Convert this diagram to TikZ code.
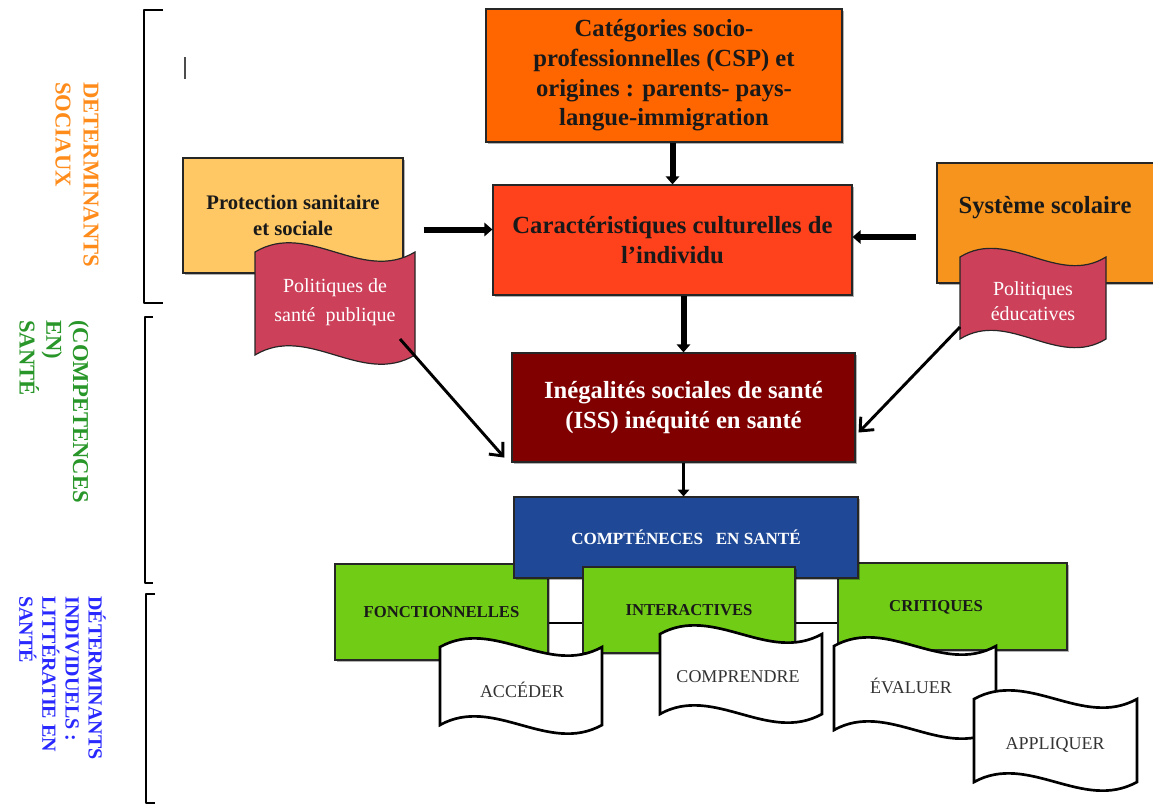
\documentclass[tikz,border=0pt]{standalone}
\usepackage{fontspec}
\setmainfont{Liberation Serif}
\usetikzlibrary{arrows.meta,calc,shadows}
\definecolor{cspC}{RGB}{255,102,0}
\definecolor{carC}{RGB}{255,66,28}
\definecolor{protC}{RGB}{255,200,100}
\definecolor{sysC}{RGB}{247,148,29}
\definecolor{polC}{RGB}{204,64,90}
\definecolor{issC}{RGB}{128,0,0}
\definecolor{comC}{RGB}{31,73,150}
\definecolor{greenC}{RGB}{113,204,22}
\definecolor{orangeL}{RGB}{255,140,26}
\definecolor{greenL}{RGB}{40,150,40}
\definecolor{blueL}{RGB}{40,40,255}
\newcommand\bx[7]{\node[#6, minimum width={(#4-#2)*0.75pt}, minimum height={(#5-#3)*0.75pt}] (#1) at ({(#2+#4)/2},{(#3+#5)/2}) {#7};}
\newcommand\wflag[9]{%
  \path[#7] (#2,#3) .. controls ({#2+(#4-#2)/3},{#3-#6}) and ({#2+2*(#4-#2)/3},{#3+#6}) .. (#4,#3)
    -- (#4,#5) .. controls ({#2+2*(#4-#2)/3},{#5+#6}) and ({#2+(#4-#2)/3},{#5-#6}) .. (#2,#5) -- cycle;
  \node[#7 text] (#1) at #9 {#8};}
\begin{document}
\begin{tikzpicture}[x=0.75pt,y=-0.75pt,
  box/.style={draw=black!85, line width=0.9pt, align=center, inner sep=0pt, text=black!90, font=\bfseries\fontsize{18.5}{22.3}\selectfont},
  shd/.style={drop shadow={shadow xshift=1.5pt,shadow yshift=-1.5pt,opacity=0.3,fill=black}},
  fat/.style={line width=4.5pt, -{Triangle[length=6pt,width=10pt]}},
  midarr/.style={line width=2.8pt, -{Triangle[length=5pt,width=8.5pt]}},
  thinarr/.style={line width=2.2pt, -{Straight Barb[length=8pt,width=14pt]}},
  gbox/.style={box, fill=greenC, font=\bfseries\fontsize{12.5}{15}\selectfont},
  gtext/.style={inner sep=0pt, text=black!90, font=\bfseries\fontsize{12.5}{15}\selectfont},
  rflag/.style={draw=black!85, line width=0.9pt, fill=polC},
  rflag text/.style={text=white, align=center, font=\fontsize{15}{22}\selectfont, inner sep=0pt},
  wflag/.style={draw=black, line width=2pt, fill=white},
  wflag text/.style={text=black!80, font=\fontsize{13.5}{16}\selectfont, inner sep=0pt},
  vlab/.style={rotate=-90, anchor=north west, align=left, inner sep=0pt},
  brk/.style={line width=2.2pt, line join=round}]
\useasboundingbox (0,0) rectangle (1153,807);
\clip (0,0) rectangle (1153,807);
% brackets
\draw[brk] (163,10) -- (144,10) -- (144,303) -- (163,303);
\draw[brk] (153,317) -- (145,317) -- (145,583) -- (153,583);
\draw[brk] (155,594) -- (146,594) -- (146,803) -- (155,803);
\draw[line width=1pt, black!70] (185,57) -- (185,79);
% side labels
\node[vlab, text=orangeL, font=\bfseries\fontsize{17}{21}\selectfont] (labA) at (99,82) {DETERMINANTS\\SOCIAUX};
\node[vlab, text=greenL, font=\bfseries\fontsize{17}{20}\selectfont] (labB) at (89,320) {(COMPETENCES\\EN)\\SANTÉ};
\node[vlab, text=blueL, font=\bfseries\fontsize{15}{17.3}\selectfont] (labC) at (106,596) {DÉTERMINANTS\\INDIVIDUELS :\\LITTÉRATIE EN\\SANTÉ};
% top boxes
\bx{csp}{486}{9}{842}{142}{box,shd,fill=cspC}{Catégories socio-\\professionnelles (CSP) et\\origines : parents- pays-\\langue-immigration}
\bx{car}{493}{185}{852}{295}{box,shd,fill=carC}{Caractéristiques culturelles de\\l’individu}
\bx{prot}{183}{158}{403}{273}{box,shd,fill=protC,font=\bfseries\fontsize{15.5}{19}\selectfont}{Protection sanitaire\\et sociale}
\bx{sys}{937}{163}{1160}{283}{box,shd,fill=sysC}{}
\node[font=\bfseries\fontsize{18.5}{22}\selectfont, text=black!90, inner sep=0pt] (sysT) at (1045,208) {Système scolaire};
\wflag{pol1}{255}{252}{415}{355}{32}{rflag}{Politiques de\\santé\ \ publique}{(335,302)}
\wflag{pol2}{960}{257}{1106}{339}{30}{rflag}{Politiques\\[-3pt]éducatives}{(1033,301)}
\bx{iss}{512}{353}{855}{462}{box,shd,fill=issC,text=white}{Inégalités sociales de santé\\(ISS) inéquité en santé}
% arrows
\draw[fat] (car.north |- csp.south) -- (car.north);
\draw[fat] (iss.north |- car.south) -- (iss.north);
\draw[fat] ($(prot.east)+(20,14)$) -- ($(car.west |- prot.east)+(0,14)$);
\draw[fat] ($(sys.west)+(-20,14)$) -- ($(car.east |- sys.west)+(0,14)$);
\draw[thinarr] ($(pol1)+(65,37)$) -- ($(iss.south west)+(-7,-5)$);
\draw[thinarr] ($(pol2)+(-73,26)$) -- ($(iss.east)+(3,25)$);
% competences
\bx{fon}{335}{564}{548}{660}{gbox,shd}{FONCTIONNELLES}
\bx{cri}{838}{563}{1067}{650}{gbox,shd}{}
\node[gtext] (criT) at (936,607) {CRITIQUES};
\draw[line width=1.5pt] ($(fon.east)+(0,11)$) -- ($(fon.east -| cri.west)+(0,11)$);
\bx{compt}{514}{497}{858}{578}{box,shd,fill=comC,text=white,font=\bfseries\fontsize{12.8}{15}\selectfont}{COMPTÉNECES\ \ \ EN SANTÉ}
\bx{int}{583}{567}{795}{653}{gbox,shd}{INTERACTIVES}
\draw[midarr] (iss.south) -- (iss.south |- compt.north);
% white flags
\wflag{acc}{440}{647}{602}{725}{30}{wflag}{ACCÉDER}{(522,690)}
\wflag{com}{660}{634}{822}{714}{30}{wflag}{COMPRENDRE}{(738,677)}
\wflag{eva}{834}{646}{996}{730}{30}{wflag}{ÉVALUER}{(911,686)}
\wflag{app}{974}{699}{1137}{782}{30}{wflag}{APPLIQUER}{(1055,745)}
\end{tikzpicture}
\end{document}
